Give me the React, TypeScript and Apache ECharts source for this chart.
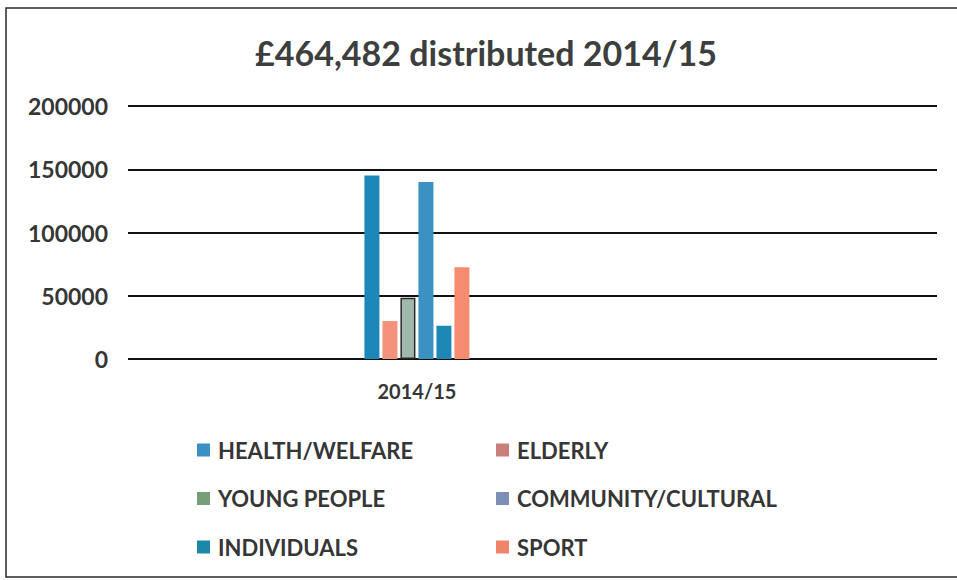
import React, { useEffect, useRef } from "react";
import * as echarts from "echarts";

const titleText = "£464,482 distributed 2014/15";
const categories = ["2014/15"];
const seriesNames = ["HEALTH/WELFARE", "ELDERLY", "YOUNG PEOPLE", "COMMUNITY/CULTURAL", "INDIVIDUALS", "SPORT"];
const values2014 = [145000, 30000, 48500, 140000, 26300, 72500];
const barColors = ["#1d87b9", "#f4927b", "#a3b8ac", "#3a91c2", "#1d88b6", "#f58c6f"];
const legendColors = ["#3a8fc4", "#c97f7a", "#769e77", "#7e8fb7", "#1a88a6", "#f0846a"];
const yTicks = [0, 50000, 100000, 150000, 200000];

// the single category sits in the 3rd of 7 equal slots of the plot width
const SLOTS = 7;
const SLOT_INDEX = 2;

export default function App() {
  const ref = useRef<HTMLDivElement>(null);

  useEffect(() => {
    if (!ref.current) return;
    const chart = echarts.init(ref.current, null, { renderer: "svg" });
    const textColor = "#363636";
    const font = "Lato, 'Open Sans', sans-serif";

    const axisData: string[] = [];
    for (let i = 0; i < SLOTS; i++) axisData.push(i === SLOT_INDEX ? categories[0] : "");

    const series = seriesNames.map((name, i) => {
      const data: (number | null)[] = axisData.map((_, k) => (k === SLOT_INDEX ? values2014[i] : null));
      return {
        name,
        type: "bar",
        data,
        barWidth: 15,
        barGap: "20%",
        itemStyle: {
          color: barColors[i],
          borderColor: i === 2 ? "#2a2a2a" : undefined,
          borderWidth: i === 2 ? 1.5 : 0,
        },
      };
    });

    const legendItem = (i: number) => ({
      name: seriesNames[i],
      itemStyle: { color: legendColors[i], borderWidth: 0 },
    });

    const legendBase = {
      orient: "vertical",
      top: 439,
      padding: 0,
      itemWidth: 13,
      itemHeight: 13,
      itemGap: 26.5,
      icon: "rect",
      textStyle: { color: textColor, fontSize: 22, fontWeight: "bold", fontFamily: font, padding: [0, 0, 0, 3] },
    };

    chart.setOption({
      animation: false,
      backgroundColor: "#ffffff",
      textStyle: { fontFamily: font },
      title: {
        text: titleText,
        left: 481,
        textAlign: "center",
        top: 30,
        textStyle: { fontFamily: font, fontSize: 34, fontWeight: "bold", color: "#3d3f3f" },
      },
      grid: { left: 128, right: 20, top: 106, bottom: 221, containLabel: false },
      xAxis: {
        type: "category",
        data: axisData,
        axisLine: { show: false },
        axisTick: { show: false },
        axisLabel: { color: textColor, fontSize: 20, fontWeight: "bold", margin: 22, fontFamily: font, interval: 0 },
        splitLine: { show: false },
      },
      yAxis: {
        type: "value",
        min: yTicks[0],
        max: yTicks[yTicks.length - 1],
        interval: yTicks[1] - yTicks[0],
        axisLine: { show: false },
        axisTick: { show: false },
        axisLabel: {
          color: textColor,
          fontSize: 23,
          fontWeight: "bold",
          margin: 20,
          fontFamily: font,
          formatter: (v: number) => String(v),
        },
        splitLine: { show: true, lineStyle: { color: "#111111", width: 2 } },
      },
      legend: [
        { ...legendBase, left: 197, data: [legendItem(0), legendItem(2), legendItem(4)] },
        { ...legendBase, left: 496, data: [legendItem(1), legendItem(3), legendItem(5)] },
      ],
      graphic: [
        {
          type: "polyline",
          shape: { points: [[957, 8], [6, 8], [6, 577], [957, 577]] },
          style: { stroke: "#2a2a2a", lineWidth: 1.5, fill: "none" },
          silent: true,
        },
      ],
      series,
    });

    return () => chart.dispose();
  }, []);

  return (
    <div
      ref={ref}
      style={{ position: "absolute", left: 0, top: 0, width: 957, height: 580, background: "#fff" }}
    />
  );
}
